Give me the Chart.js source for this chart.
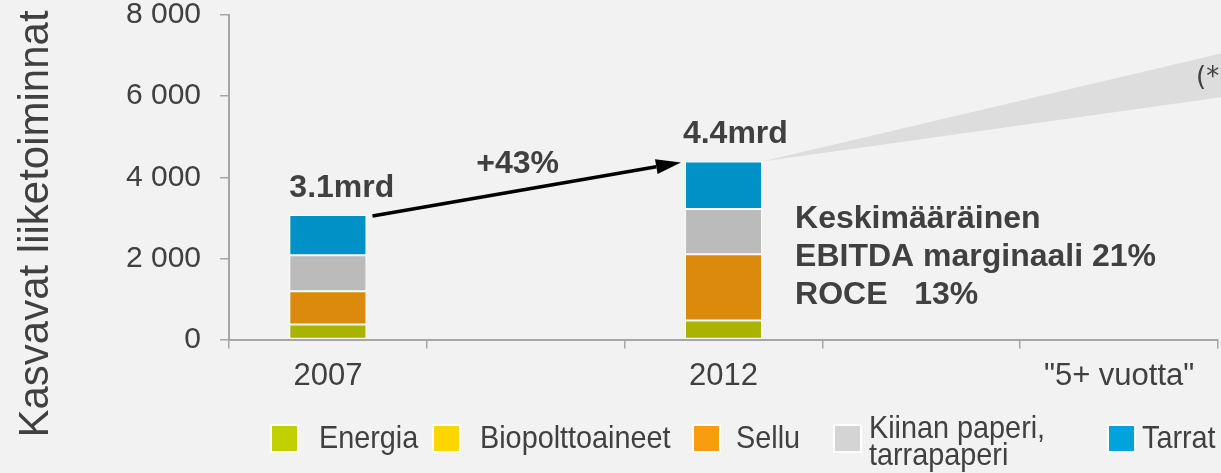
<!DOCTYPE html>
<html><head><meta charset="utf-8">
<script src="https://cdn.jsdelivr.net/npm/chart.js@4.4.0/dist/chart.umd.min.js"></script>
<style>
html,body{margin:0;padding:0;background:#f2f2f2;overflow:hidden}
#wrap{width:1221px;height:473px;position:relative;background:#f2f2f2}
canvas{display:block}
</style></head><body>
<div id="wrap"><canvas id="c" width="1221" height="473"></canvas></div>
<script>
const categories = ['2007', '', '2012', '', '"5+ vuotta"'];
const seriesNames = ['Energia', 'Biopolttoaineet', 'Sellu', 'Kiinan paperi,\ntarrapaperi', 'Tarrat'];
const energia = [370, null, 470, null, null];
const biopolttoaineet = [0, null, 0, null, null];
const sellu = [820, null, 1630, null, null];
const kiinanPaperi = [890, null, 1120, null, null];
const tarrat = [990, null, 1170, null, null];
const yTicks = [0, 2000, 4000, 6000, 8000];
const totalLabels = ['3.1mrd', null, '4.4mrd', null, null];
const growthLabel = '+43%';
const noteLines = ['Keskimääräinen', 'EBITDA marginaali 21%', 'ROCE   13%'];
const forecastRange = [5970, 7050];
const forecastNote = '(*)';
const yTitle = 'Kasvavat liiketoiminnat';

const FONT = '"Liberation Sans", Arial, Helvetica, sans-serif';
const TEXT = '#404040';
const AXIS = '#a6a6a6';
const barColors = ['#aab400', '#ffd500', '#dc8a0c', '#bbbbbb', '#0091c6'];
const legendColors = ['#c0d000', '#ffd500', '#f99d10', '#d4d4d4', '#00a3de'];
const seriesValues = [energia, biopolttoaineet, sellu, kiinanPaperi, tarrat];

const legendLayout = {boxX:[270,432,692,833,1107], textX:[319,480,736,869,1142], boxY:424, box:29, baseline:448, lineH:27, squeeze:0.9};

const overlay = {
  id: 'overlay',
  beforeDatasetsDraw(chart) {
    const ctx = chart.ctx, y = chart.scales.y;
    const top = chart.getDatasetMeta(4).data[2];
    const x0 = top.x + top.width / 2, y0 = top.y;
    ctx.save();
    ctx.fillStyle = '#dcdddc';
    ctx.beginPath();
    ctx.moveTo(x0, y0);
    ctx.lineTo(chart.width, y.getPixelForValue(forecastRange[1]));
    ctx.lineTo(chart.width, y.getPixelForValue(forecastRange[0]));
    ctx.closePath();
    ctx.fill();
    ctx.restore();
  },
  afterDraw(chart) {
    const ctx = chart.ctx, ys = chart.scales.y;
    const meta = chart.getDatasetMeta(4);
    ctx.save();
    ctx.fillStyle = TEXT;
    // totals
    ctx.font = 'bold 32px ' + FONT;
    ctx.textAlign = 'left'; ctx.textBaseline = 'alphabetic';
    totalLabels.forEach((t, i) => {
      if (!t) return;
      const b = meta.data[i];
      ctx.fillText(t, b.x - b.width / 2 + (i === 0 ? 0 : -2), b.y - 18);
    });
    // arrow
    const a = meta.data[0], b = meta.data[2];
    const sx = a.x + a.width / 2 + 6, sy = a.y + 1;
    const ex = b.x - b.width / 2 - 4, ey = b.y + 1;
    const ang = Math.atan2(ey - sy, ex - sx);
    const hl = 25, hw = 7.5;
    const bx = ex - hl * Math.cos(ang), by = ey - hl * Math.sin(ang);
    ctx.strokeStyle = '#000'; ctx.lineWidth = 3.5;
    ctx.beginPath(); ctx.moveTo(sx, sy); ctx.lineTo(bx, by); ctx.stroke();
    ctx.fillStyle = '#000';
    ctx.beginPath();
    ctx.moveTo(ex, ey);
    ctx.lineTo(bx - hw * Math.sin(ang), by + hw * Math.cos(ang));
    ctx.lineTo(bx + hw * Math.sin(ang), by - hw * Math.cos(ang));
    ctx.closePath(); ctx.fill();
    // growth label
    ctx.fillStyle = TEXT;
    ctx.textAlign = 'center';
    ctx.fillText(growthLabel, (sx + ex) / 2 - 9, (sy + ey) / 2 - 16);
    // note
    ctx.textAlign = 'left';
    const nx = b.x + b.width / 2 + 33;
    noteLines.forEach((l, i) => ctx.fillText(l, nx, 228 + i * 38));
    // forecast note
    ctx.font = '26px "DejaVu Sans", ' + FONT;
    ctx.fillText(forecastNote, 1196, ys.getPixelForValue((forecastRange[0] + forecastRange[1]) / 2) + 10);
    // y title
    ctx.save();
    ctx.translate(48, 224);
    ctx.rotate(-Math.PI / 2);
    ctx.textAlign = 'center';
    ctx.font = '42px ' + FONT;
    ctx.fillText(yTitle, 0, 0);
    ctx.restore();
    // legend
    const L = legendLayout;
    ctx.font = '32px ' + FONT;
    seriesNames.forEach((name, i) => {
      ctx.fillStyle = '#ffffff';
      ctx.fillRect(L.boxX[i], L.boxY, L.box, L.box);
      ctx.fillStyle = legendColors[i];
      ctx.fillRect(L.boxX[i] + 2, L.boxY + 2, L.box - 4, L.box - 4);
      ctx.fillStyle = TEXT;
      const lines = name.split('\n');
      lines.forEach((ln, k) => {
        const by2 = lines.length === 1 ? L.baseline : L.baseline - 10 + k * L.lineH;
        ctx.save();
        ctx.translate(L.textX[i], by2);
        ctx.scale(L.squeeze, 1);
        ctx.fillText(ln, 0, 0);
        ctx.restore();
      });
    });
    ctx.restore();
  }
};

new Chart(document.getElementById('c'), {
  type: 'bar',
  data: {
    labels: categories,
    datasets: seriesNames.map((n, i) => ({
      label: n,
      data: seriesValues[i],
      backgroundColor: barColors[i],
      borderColor: '#ffffff',
      borderWidth: i === 1 ? 0 : 1,
      borderSkipped: false,
      barPercentage: 0.78,
      categoryPercentage: 0.5
    }))
  },
  options: {
    responsive: false,
    animation: false,
    devicePixelRatio: 1,
    layout: {padding: {top: 15, right: 3, left: 0, bottom: 0}},
    plugins: {legend: {display: false}, tooltip: {enabled: false}},
    scales: {
      x: {
        stacked: true,
        offset: true,
        grid: {offset: true, drawOnChartArea: false, drawTicks: true, tickLength: 9, color: AXIS, lineWidth: 1.5},
        border: {color: AXIS, width: 2},
        ticks: {font: {family: FONT, size: 31}, color: TEXT, padding: 9, maxRotation: 0, autoSkip: false},
        afterFit(s) { s.height = 473 - 339.5; s.paddingLeft = 0; s.paddingRight = 0; }
      },
      y: {
        stacked: true,
        min: 0, max: 8000,
        afterBuildTicks(s) { s.ticks = yTicks.map(v => ({value: v})); },
        grid: {drawOnChartArea: false, drawTicks: true, tickLength: 9, color: AXIS, lineWidth: 1.5},
        border: {color: AXIS, width: 2},
        ticks: {
          font: {family: FONT, size: 30}, color: TEXT, padding: 19,
          callback: v => String(v).replace(/\B(?=(\d{3})+(?!\d))/g, ' ')
        },
        afterFit(s) { s.width = 229; s.paddingTop = 0; s.paddingBottom = 0; }
      }
    }
  },
  plugins: [overlay]
});
</script>
</body></html>
